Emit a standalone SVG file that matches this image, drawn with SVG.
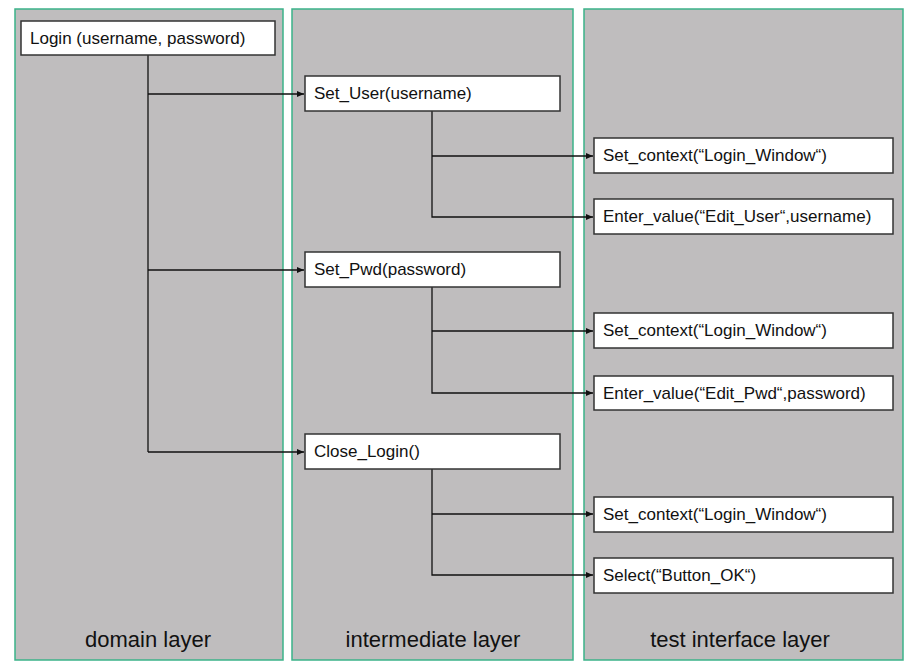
<svg xmlns="http://www.w3.org/2000/svg" width="918" height="671" viewBox="0 0 918 671">
<style>
.layer{fill:#bfbdbe;stroke:#3bb389;stroke-width:1.5}
.box{fill:#fff;stroke:#333;stroke-width:1.5}
.t{font-family:"Liberation Sans",Arial,sans-serif;font-size:17px;fill:#111}
.lbl{font-family:"Liberation Sans",Arial,sans-serif;font-size:22px;fill:#111;text-anchor:middle}
.c{fill:none;stroke:#111;stroke-width:1.3}
</style>
<defs>
<marker id="ah" markerWidth="8" markerHeight="8" refX="7" refY="4" orient="auto" markerUnits="userSpaceOnUse">
<path d="M0,1 L7,4 L0,7 Z" fill="#111"/>
</marker>
</defs>
<rect width="918" height="671" fill="#fff"/>
<g id="layers">
<rect class="layer" x="15" y="9" width="268" height="651"/>
<rect class="layer" x="292" y="9" width="281" height="651"/>
<rect class="layer" x="584" y="9" width="319" height="651"/>
<text class="lbl" x="148" y="647">domain layer</text>
<text class="lbl" x="433" y="647">intermediate layer</text>
<text class="lbl" x="740" y="647">test interface layer</text>
</g>
<g id="connectors">
<path class="c" d="M148,55 V452"/>
<path class="c" d="M148,94 H304" marker-end="url(#ah)"/>
<path class="c" d="M148,270 H304" marker-end="url(#ah)"/>
<path class="c" d="M148,452 H304" marker-end="url(#ah)"/>
<path class="c" d="M432,111 V217 H593" marker-end="url(#ah)"/>
<path class="c" d="M432,156 H593" marker-end="url(#ah)"/>
<path class="c" d="M432,287 V393 H593" marker-end="url(#ah)"/>
<path class="c" d="M432,331 H593" marker-end="url(#ah)"/>
<path class="c" d="M432,469 V575 H593" marker-end="url(#ah)"/>
<path class="c" d="M432,514 H593" marker-end="url(#ah)"/>
</g>
<g id="login"><rect class="box" x="21" y="21" width="254" height="34"/><text class="t" x="30" y="44">Login (username, password)</text></g>
<g id="set_user"><rect class="box" x="305" y="76" width="255" height="35"/><text class="t" x="314" y="99">Set_User(username)</text></g>
<g id="set_pwd"><rect class="box" x="305" y="252" width="255" height="35"/><text class="t" x="314" y="275">Set_Pwd(password)</text></g>
<g id="close_login"><rect class="box" x="305" y="434" width="255" height="35"/><text class="t" x="314" y="457">Close_Login()</text></g>
<g id="ctx1"><rect class="box" x="594" y="138" width="299" height="35"/><text class="t" x="603" y="161">Set_context(“Login_Window“)</text></g>
<g id="enter_user"><rect class="box" x="594" y="199" width="299" height="35"/><text class="t" x="603" y="222">Enter_value(“Edit_User“,username)</text></g>
<g id="ctx2"><rect class="box" x="594" y="313" width="299" height="35"/><text class="t" x="603" y="336">Set_context(“Login_Window“)</text></g>
<g id="enter_pwd"><rect class="box" x="594" y="376" width="299" height="34"/><text class="t" x="603" y="399">Enter_value(“Edit_Pwd“,password)</text></g>
<g id="ctx3"><rect class="box" x="594" y="497" width="299" height="35"/><text class="t" x="603" y="520">Set_context(“Login_Window“)</text></g>
<g id="select"><rect class="box" x="594" y="558" width="299" height="35"/><text class="t" x="603" y="581">Select(“Button_OK“)</text></g>
</svg>
